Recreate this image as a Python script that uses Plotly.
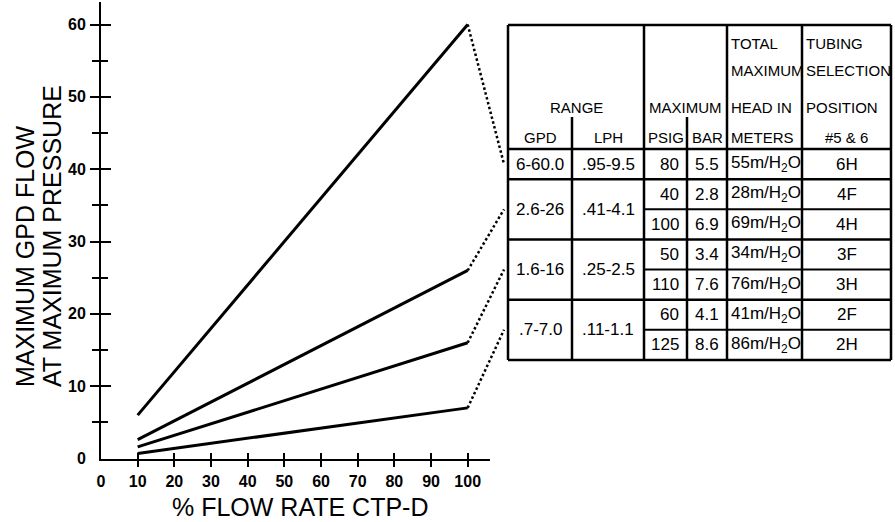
import plotly.graph_objects as go

OFF = 0
W, H = 895, 522

# ---------------- data ----------------
flow_pct = [10, 100]
line_gpd_6_60 = [6.0, 60.0]
line_gpd_26 = [2.6, 26.0]
line_gpd_16 = [1.6, 16.0]
line_gpd_7 = [0.7, 7.0]
series = [line_gpd_6_60, line_gpd_26, line_gpd_16, line_gpd_7]

x_tick_vals = [0, 10, 20, 30, 40, 50, 60, 70, 80, 90, 100]
y_tick_vals = [0, 10, 20, 30, 40, 50, 60]
y_minor_vals = [5, 15, 25, 35, 45, 55]

range_gpd = ["6-60.0", "2.6-26", "1.6-16", ".7-7.0"]
range_lph = [".95-9.5", ".41-4.1", ".25-2.5", ".11-1.1"]
max_psig = [["80"], ["40", "100"], ["50", "110"], ["60", "125"]]
max_bar = [["5.5"], ["2.8", "6.9"], ["3.4", "7.6"], ["4.1", "8.6"]]
head_m = [["55"], ["28", "69"], ["34", "76"], ["41", "86"]]
tubing = [["6H"], ["4F", "4H"], ["3F", "3H"], ["2F", "2H"]]

header_lines_col4 = ["TOTAL", "MAXIMUM", "HEAD IN", "METERS"]
header_lines_col5 = ["TUBING", "SELECTION", "POSITION", "#5 & 6"]
sub_headers = ["GPD", "LPH", "PSIG", "BAR"]

# ---------------- layout geometry (screen pixels) ----------------
def px2x(p):
    return (p - OFF) / W

def px2y(p):
    return 1 - (p - OFF) / H

X0_PX, X1_PX = 101, 490
Y0_PX, Y_TOP_PX = 458.5, 2
X_PER_UNIT = 3.667
Y_PER_UNIT = 7.233
x_rng = [0, (X1_PX - X0_PX) / X_PER_UNIT]
y_rng = [0, (Y0_PX - Y_TOP_PX) / Y_PER_UNIT]
xdom = [px2x(X0_PX), px2x(X1_PX)]
ydom = [px2y(Y0_PX), px2y(Y_TOP_PX)]

def main_to_paper(x, y):
    px = xdom[0] + (x - x_rng[0]) / (x_rng[1] - x_rng[0]) * (xdom[1] - xdom[0])
    py = ydom[0] + (y - y_rng[0]) / (y_rng[1] - y_rng[0]) * (ydom[1] - ydom[0])
    return px, py

# table geometry
T_LEFT, T_TOP = 508, 25
col_widths = [64, 72, 43, 40, 75, 89]
col_edges = [0]
for w in col_widths:
    col_edges.append(col_edges[-1] + w)
T_W = col_edges[-1]
HEADER_H = 124
ROW_H = 30.14
group_sizes = [len(g) for g in max_psig]
n_rows = sum(group_sizes)
T_H = HEADER_H + ROW_H * n_rows
PAD = 2
t_xdom = [px2x(T_LEFT - PAD), px2x(T_LEFT + T_W + PAD)]
t_ydom = [px2y(T_TOP + T_H + PAD), px2y(T_TOP - PAD)]

BLACK = "#000000"
FONT_TICK = dict(family="Liberation Sans, Arial, sans-serif", size=16, color=BLACK, weight="bold")
FONT_TITLE = dict(family="Liberation Sans, Arial, sans-serif", size=25, color=BLACK)
FONT_HEAD = dict(family="Liberation Sans, Arial, sans-serif", size=15, color=BLACK)
FONT_CELL = dict(family="Liberation Sans, Arial, sans-serif", size=17, color=BLACK)

fig = go.Figure()

for s in series:
    fig.add_trace(go.Scatter(x=flow_pct, y=s, mode="lines",
                             line=dict(color=BLACK, width=3),
                             showlegend=False, hoverinfo="skip",
                             xaxis="x", yaxis="y"))

# empty traces so the overlay axes (crossing ticks) and table axes get drawn
for xa, ya in [("x3", "y"), ("x4", "y"), ("x", "y3"), ("x", "y4"), ("x2", "y2")]:
    fig.add_trace(go.Scatter(x=[], y=[], mode="lines", showlegend=False,
                             hoverinfo="skip", xaxis=xa, yaxis=ya))

clear = "rgba(0,0,0,0)"
common = dict(showgrid=False, zeroline=False, fixedrange=True)

layout = dict(
    width=W, height=H,
    margin=dict(l=0, r=0, t=0, b=0, pad=0),
    paper_bgcolor="white", plot_bgcolor="white",
    showlegend=False,
    xaxis=dict(domain=xdom, range=x_rng, anchor="y", tickmode="array",
               tickvals=x_tick_vals, ticktext=[str(v) for v in x_tick_vals],
               ticks="outside", ticklen=7, tickcolor=clear, tickfont=FONT_TICK,
               showline=True, linecolor=BLACK, linewidth=2, automargin=False, **common),
    yaxis=dict(domain=ydom, range=y_rng, anchor="x", tickmode="array",
               tickvals=y_tick_vals, ticktext=[str(v) for v in y_tick_vals],
               ticks="outside", ticklen=10, tickcolor=clear, tickfont=FONT_TICK,
               showline=True, linecolor=BLACK, linewidth=2, automargin=False, **common),
    xaxis3=dict(domain=xdom, range=x_rng, anchor="y", overlaying="x", tickmode="array",
                tickvals=x_tick_vals[1:], ticks="outside", ticklen=7, tickwidth=2,
                tickcolor=BLACK, showticklabels=False, showline=False, **common),
    xaxis4=dict(domain=xdom, range=x_rng, anchor="y", overlaying="x", tickmode="array",
                tickvals=x_tick_vals[1:], ticks="inside", ticklen=6, tickwidth=2,
                tickcolor=BLACK, showticklabels=False, showline=False, **common),
    yaxis3=dict(domain=ydom, range=y_rng, anchor="x", overlaying="y", tickmode="array",
                tickvals=y_tick_vals[1:], ticks="outside", ticklen=10, tickwidth=2,
                tickcolor=BLACK, showticklabels=False, showline=False,
                minor=dict(tickmode="array", tickvals=y_minor_vals, ticks="outside",
                           ticklen=8, tickwidth=2, tickcolor=BLACK), **common),
    yaxis4=dict(domain=ydom, range=y_rng, anchor="x", overlaying="y", tickmode="array",
                tickvals=y_tick_vals[1:], ticks="inside", ticklen=10, tickwidth=2,
                tickcolor=BLACK, showticklabels=False, showline=False,
                minor=dict(tickmode="array", tickvals=y_minor_vals, ticks="inside",
                           ticklen=7, tickwidth=2, tickcolor=BLACK), **common),
    xaxis2=dict(domain=t_xdom, range=[-PAD, T_W + PAD], anchor="y2", visible=False, **common),
    yaxis2=dict(domain=t_ydom, range=[T_H + PAD, -PAD], anchor="x2", visible=False, **common),
)
fig.update_layout(**layout)

shapes = []
annotations = []

def tline(x0, y0, x1, y1, w=2):
    shapes.append(dict(type="line", xref="x2", yref="y2", x0=x0, y0=y0, x1=x1, y1=y1,
                       line=dict(color=BLACK, width=w)))

tline(0, 0, T_W, 0, 2.5)
tline(0, HEADER_H, T_W, HEADER_H, 2.5)
row = 0
group_centers = []
for g, n in enumerate(group_sizes):
    top = HEADER_H + ROW_H * row
    bot = HEADER_H + ROW_H * (row + n)
    group_centers.append((top + bot) / 2)
    tline(0, bot, T_W, bot, 2.5)
    for k in range(1, n):
        yk = HEADER_H + ROW_H * (row + k)
        tline(col_edges[2], yk, T_W, yk, 2)
    row += n

for xi in [0, 2, 4, 5, 6]:
    tline(col_edges[xi], 0, col_edges[xi], T_H, 2.5)
SUB_TOP = 92
for xi in [1, 3]:
    tline(col_edges[xi], SUB_TOP, col_edges[xi], T_H, 2.5)

def tann(text, x, y, xanchor="center", font=FONT_CELL):
    annotations.append(dict(text=text, x=x, y=y, xref="x2", yref="y2", showarrow=False,
                            xanchor=xanchor, yanchor="middle", font=font))

hdr_y = [18, 45, 82, 112]
tann("RANGE", (col_edges[0] + col_edges[2]) / 2, hdr_y[2], font=FONT_HEAD)
tann("MAXIMUM", (col_edges[2] + col_edges[4]) / 2, hdr_y[2], font=FONT_HEAD)
for i, t in enumerate(header_lines_col4):
    tann(t, col_edges[4] + 2, hdr_y[i], "left", font=FONT_HEAD)
for i, t in enumerate(header_lines_col5):
    if i < 3:
        tann(t, col_edges[5] + 2, hdr_y[i], "left", font=FONT_HEAD)
    else:
        tann(t, (col_edges[5] + col_edges[6]) / 2, hdr_y[i], font=FONT_HEAD)
for i, t in enumerate(sub_headers):
    tann(t, (col_edges[i] + col_edges[i + 1]) / 2, hdr_y[3], font=FONT_HEAD)

row = 0
for g, n in enumerate(group_sizes):
    gc = group_centers[g]
    tann(range_gpd[g], (col_edges[0] + col_edges[1]) / 2, gc)
    tann(range_lph[g], (col_edges[1] + col_edges[2]) / 2, gc)
    for k in range(n):
        yc = HEADER_H + ROW_H * (row + k + 0.5)
        tann(max_psig[g][k], col_edges[3] - 6, yc, "right")
        tann(max_bar[g][k], (col_edges[3] + col_edges[4]) / 2, yc)
        tann(head_m[g][k] + "m/H<sub>2</sub>O", col_edges[4] + 2, yc, "left")
        tann(tubing[g][k], (col_edges[5] + col_edges[6]) / 2, yc)
    row += n

# dotted connectors from each line end to its table row group
for s, gc in zip(series, group_centers):
    x0p, y0p = main_to_paper(flow_pct[-1], s[-1])
    x1p = px2x(T_LEFT - 4)
    y1p = px2y(T_TOP + gc)
    shapes.append(dict(type="line", xref="paper", yref="paper", x0=x0p, y0=y0p, x1=x1p, y1=y1p,
                       line=dict(color=BLACK, width=2.5, dash="2.5px,2.5px")))

# axis titles
annotations.append(dict(text="MAXIMUM GPD FLOW", x=px2x(25), y=px2y(389), xref="paper", yref="paper",
                        textangle=-90, showarrow=False, xanchor="center", yanchor="bottom", font=FONT_TITLE))
annotations.append(dict(text="AT MAXIMUM PRESSURE", x=px2x(52), y=px2y(389), xref="paper", yref="paper",
                        textangle=-90, showarrow=False, xanchor="center", yanchor="bottom", font=FONT_TITLE))
annotations.append(dict(text="% FLOW RATE CTP-D", x=px2x(300), y=px2y(507), xref="paper", yref="paper",
                        showarrow=False, xanchor="center", yanchor="middle", font=FONT_TITLE))

fig.update_layout(shapes=shapes, annotations=annotations)
fig.write_html("out.html",
               config={"displayModeBar": False, "staticPlot": True},
               post_script="document.body.style.margin='0px';document.body.style.overflow='hidden';")
